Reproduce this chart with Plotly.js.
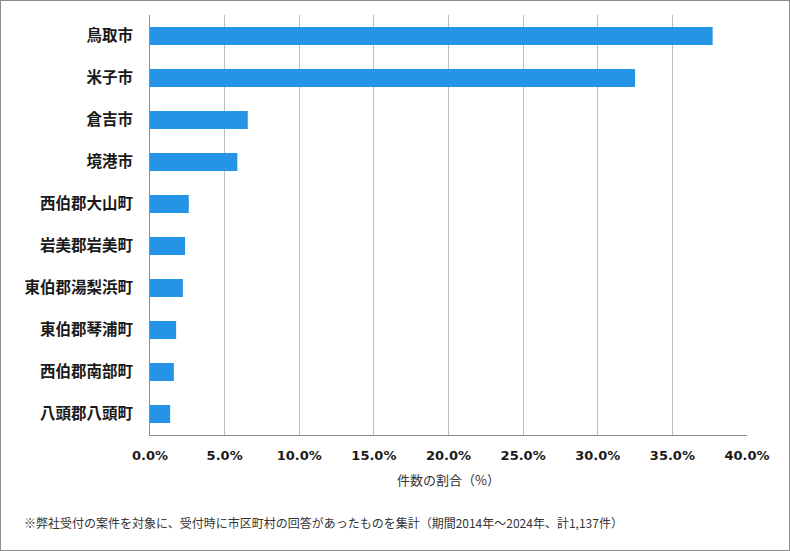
<!DOCTYPE html>
<html><head><meta charset="utf-8">
<script src="https://cdn.plot.ly/plotly-3.0.1.min.js"></script>
<style>
html,body{margin:0;padding:0;background:#fff;}
#wrap{width:790px;height:551px;box-sizing:border-box;border:1px solid #8c8c8c;}
#chart{width:788px;height:549px;}
</style></head>
<body><div id="wrap"><div id="chart"></div></div>
<script>
const categories = ["鳥取市","米子市","倉吉市","境港市","西伯郡大山町","岩美郡岩美町","東伯郡湯梨浜町","東伯郡琴浦町","西伯郡南部町","八頭郡八頭町"];
const shares = [37.7, 32.5, 6.55, 5.85, 2.6, 2.35, 2.2, 1.75, 1.6, 1.35];
const xTitle = "件数の割合（%）";
const note = "※弊社受付の案件を対象に、受付時に市区町村の回答があったものを集計（期間2014年～2024年、計1,137件）";

const FONT = "'Noto Sans CJK JP', 'Noto Sans', sans-serif";
const TICKFONT = "'DejaVu Sans', 'Noto Sans CJK JP', sans-serif";
const L = 149, R = 42, T = 14, B = 115, W = 788, H = 549;
const pw = W - L - R, ph = H - T - B;

Plotly.newPlot('chart', [{
  type: 'bar', orientation: 'h',
  y: categories, x: shares,
  marker: {color: '#2694E6'},
  hoverinfo: 'x+y'
}], {
  width: W, height: H,
  margin: {l: L, r: R, t: T, b: B, pad: 0},
  paper_bgcolor: '#fff', plot_bgcolor: '#fff',
  bargap: 0.57,
  showlegend: false,
  font: {family: FONT, color: '#1a1a1a'},
  xaxis: {
    range: [0, 40], dtick: 5, tick0: 0,
    tickformat: '.1f', ticksuffix: '%',
    showgrid: true, gridcolor: '#bdbdbd', gridwidth: 1,
    zeroline: false,
    showline: true, linecolor: '#8c8c8c', linewidth: 1,
    ticks: '', ticklabelstandoff: 8,
    tickfont: {family: TICKFONT, size: 13, color: '#1a1a1a', weight: 'bold'},
    title: {text: xTitle, standoff: 14, font: {family: FONT, size: 13, color: '#333'}},
    fixedrange: true
  },
  yaxis: {
    autorange: 'reversed',
    showgrid: false, zeroline: false,
    showline: true, linecolor: '#8c8c8c', linewidth: 1,
    ticks: '', ticklabelstandoff: 13,
    tickfont: {family: FONT, size: 15.5, color: '#1a1a1a', weight: 'bold'},
    fixedrange: true
  },
  annotations: [{
    text: note, showarrow: false,
    xref: 'paper', yref: 'paper',
    x: (21 - L) / pw, y: (T + ph - 521) / ph,
    xanchor: 'left', yanchor: 'middle',
    font: {family: FONT, size: 12, color: '#333'}
  }]
}, {displayModeBar: false, staticPlot: true});
</script></body></html>
